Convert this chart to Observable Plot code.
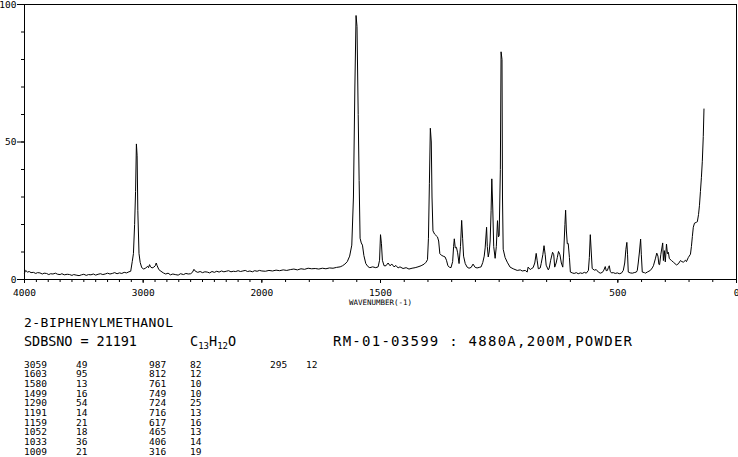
<!DOCTYPE html>
<html><head><meta charset="utf-8">
<script src="https://cdn.jsdelivr.net/npm/d3@7"></script>
<script src="https://cdn.jsdelivr.net/npm/@observablehq/plot@0.6"></script>
<style>
body{margin:0;background:#fff;}
svg{display:block;}
#chart svg line, #chart svg rect{shape-rendering:crispEdges;}
</style></head><body><div id="chart"></div><div id="info"></div>
<script>
// Raman spectrum (wavenumber in cm-1, relative intensity)
const wavenumber = [4000,3990,3975,3960,3945,3925,3905,3890,3870,3850,3835,3815,3795,3780,3760,3740,3720,3700,3685,3665,3640,3620,3600,3585,3565,3540,3520,3500,3480,3460,3440,3420,3400,3380,3360,3340,3320,3300,3280,3260,3240,3220,3200,3180,3160,3140,3120,3105,
3092,3082,3072,3064,3057,3051,3045,3035,3025,3012,2995,2978,2962,2955,2946,2938,2925,2910,2898,2890,2882,2868,2850,2830,2810,2790,2770,2750,2730,2705,2685,2660,2640,2620,2600,2585,2572,2560,2540,2520,2500,2480,2460,2440,2420,2400,2380,2360,2340,2320,2300,2280,2260,2240,2220,2200,2180,2160,2140,2120,2100,2080,2060,2040,2020,2000,
1985,1970,1955,1940,1925,1910,1895,1880,1865,1850,1835,1820,1805,1790,1775,1760,1745,1730,1715,1700,1685,1670,1660,1650,1640,1630,1621,1614,1608,1603,1599,1594,1590,1586,1581,1576,1570,1562,1553,1545,1533,1520,1510,1504,1500,1496,1492,1485,1477,1468,1460,1452,1443,1435,1426,1418,1405,1392,1380,1367,1354,1342,1329,1316,1308,1302,1298,1294,1290,1286,1283,1279,1272,1266,1260,1255,1250,1243,1236,1228,1222,1216,1210,1203,1196,1192,1189,1185,1180,1175,1169,1163,1158,1154,1150,1143,1135,1127,1118,1110,1101,1093,1084,1076,1069,1063,1059,1053,1050,1046,1042,1038,1034,1031,1027,1023,1017,1012,1007,1003,1000,995,992,988,986,983,975,966,954,941,924,911,903,890,882,878,869,865,857,850,844,840,835,827,823,816,811,806,802,793,789,783,775,770,766,760,755,750,744,738,732,728,723,720,717,713,709,704,700,692,684,675,667,658,650,641,633,624,620,616,612,608,599,591,582,574,565,559,553,549,544,540,536,532,527,519,511,502,494,485,477,471,466,462,459,456,448,439,431,422,418,414,409,404,401,397,388,384,376,363,355,350,342,336,331,327,324,319,311,308,304,300,295,291,287,283,274,266,253,245,236,230,224,215,211,203,194,190,186,182,177,169,165,160,156,152,148,144,140,137];
const intensity = [2.4,3.3,2.7,2.9,2.5,2.6,2.2,2.5,2.4,2.0,2.3,2.2,1.8,2.1,2.0,2.3,1.9,1.8,2.1,1.7,1.9,1.8,1.5,1.8,1.6,1.4,1.7,1.9,1.5,1.8,1.7,2.0,1.6,1.9,2.1,1.8,2.0,2.3,2.0,2.2,2.5,2.1,2.4,2.2,2.6,2.4,2.8,3.0,
6.5,9.4,20,32,49.3,45,25,9.4,6.2,4.3,3.8,4.2,4.8,4.3,5.4,4.6,4.2,4.5,5.0,6.0,5.0,3.6,3.0,2.4,2.0,2.3,1.7,2.0,1.8,1.6,2.1,1.8,2.2,2.0,2.1,2.6,3.7,3.0,2.6,2.9,2.5,2.8,2.7,2.4,2.9,2.6,3.0,2.7,3.1,2.8,3.0,3.2,2.8,3.0,2.9,3.2,2.9,3.1,3.3,2.9,3.1,2.8,3.2,3.0,3.3,3.1,
3.0,3.3,3.1,3.4,3.2,3.5,3.3,3.6,3.8,3.5,3.9,3.7,4.1,3.9,4.0,3.8,4.1,3.9,4.2,4.1,4.4,4.6,5.0,5.6,6.5,8.5,12.5,30,70,96,92,60,36,15,13.3,12.5,8.7,5.8,4.7,4.3,4.6,4.3,4.6,7,16.3,13,7,5,5.0,6.0,5.0,5.6,4.6,5.1,4.2,4.6,4.0,4.3,3.8,4.1,4.3,4.6,5.0,5.6,6.3,7.2,15,35,55,50,30,17.7,16.5,16,15.5,14,9.4,8.8,8.5,8.2,7.0,5.0,4.5,4.3,6.5,12,14.8,11.5,11.7,9.7,5.8,12,21.5,15,8.5,5.8,4.5,4.1,4.4,5.6,4.4,4.2,4.4,4.6,6.2,8.5,11.5,19,12,8.2,10,14,25,36.6,26,12,7.7,12,21.4,15.5,16,40,82.8,80,30,11,8,6.3,4.5,3.9,3.3,3.5,3.1,3.3,2.7,4.5,3.6,3.9,4.3,6,9.5,7,3.9,4.2,5.8,9,12.3,9,5.2,3.5,4.2,7,9.9,9,4.5,6,8,10.2,9,6,4.5,10,20,25.2,18,13,13.1,8,2.7,2.4,2.2,2.5,2.1,2.4,2.2,2.6,2.3,3.3,8,16.3,10,4,3.4,3.6,2.7,2.3,2.6,3.4,4.7,3.2,3.3,4.3,5.0,3.0,2.4,2.5,2.2,2.4,2.1,2.3,3.3,6,11,13.5,9,2.7,2.4,2.3,2.5,2.7,3.3,6,10,14.7,9,2.7,2.5,2.3,2.7,3.3,4.2,5.0,7.5,9.6,8.5,5.5,5.4,9,13.3,6.9,10.5,6.4,12.9,9.4,9.9,7.6,6.9,6.3,5.3,5.7,6.9,6.5,6.3,7.0,6.5,8.0,9.2,12,15.6,19,20.5,20.8,21,23.6,27,32,37,43,52,62];

const xTickLabels = [4000, 3000, 2000, 1500, 500, 0];
const xMinorTicks = d3.range(0, 4001, 100);
const yTickLabels = [0, 50, 100];
const yMinorTicks = d3.range(0, 101, 10);
const xAxisTitle = "WAVENUMBER(-1)";

// Header and peak list
const compoundName = "2-BIPHENYLMETHANOL";
const sdbsNumber = "SDBSNO = 21191";
const formulaParts = ["C", "13", "H", "12", "O"];
const sampleInfo = "RM-01-03599 : 4880A,200M,POWDER";
const peakWavenumber = [3059,1603,1580,1499,1290,1191,1159,1052,1033,1009,987,812,761,749,724,716,617,465,406,316,295];
const peakIntensity = [49,95,13,16,54,14,21,18,36,21,82,12,10,10,25,13,16,13,14,19,12];

const spectrum = wavenumber.map((w, i) => ({w, v: intensity[i]}));
const font = "DejaVu Sans Mono";
// the axis is compressed by half above 2000 cm-1
const compress = w => (w > 2000 ? 2000 + (w - 2000) / 2 : w);
const expand = u => (u > 2000 ? 2000 + (u - 2000) * 2 : u);

const chart = Plot.plot({
  width: 738, height: 305,
  marginLeft: 24, marginRight: 2, marginTop: 4, marginBottom: 26,
  x: {transform: compress, domain: [3000, 0]},
  y: {domain: [0, 100]},
  style: {fontFamily: font, color: "black", background: "white", overflow: "visible"},
  marks: [
    Plot.frame({stroke: "black", strokeWidth: 1}),
    Plot.axisX({ticks: xMinorTicks.map(compress), tickSize: 3, tickFormat: () => "", label: null}),
    Plot.axisX({ticks: xTickLabels.map(compress), tickSize: 4, tickPadding: 6, fontSize: 9.5, label: null, tickFormat: u => String(expand(u))}),
    Plot.axisY({ticks: yMinorTicks, tickSize: 3, tickFormat: () => "", label: null}),
    Plot.axisY({ticks: yTickLabels, tickSize: 7, tickPadding: 1, fontSize: 9.5, label: null, tickFormat: d => String(d)}),
    Plot.axisX({ticks: [], tickSize: 0, label: xAxisTitle, labelAnchor: "center", labelArrow: "none", labelOffset: 25, fontSize: 7.5}),
    Plot.line(spectrum, {x: "w", y: "v", stroke: "black", strokeWidth: 1})
  ]
});
document.getElementById("chart").appendChild(chart);

// Text block below the chart
const top0 = 305;
const info = d3.select("#info").append("svg")
  .attr("width", 738).attr("height", 152)
  .style("font-family", font).attr("fill", "black");

info.append("text").attr("x", 24).attr("y", 327 - top0).attr("font-size", 13)
  .attr("textLength", 149).attr("lengthAdjust", "spacing").text(compoundName);
info.append("text").attr("x", 24).attr("y", 346 - top0).attr("font-size", 13.5)
  .attr("textLength", 113).attr("lengthAdjust", "spacing").text(sdbsNumber);
const f = info.append("text").attr("x", 190).attr("y", 346 - top0).attr("font-size", 13.5);
formulaParts.forEach((p, i) => {
  const sub = i % 2 === 1;
  f.append("tspan").attr("font-size", sub ? 9 : 13.5).attr("dy", i === 0 ? 0 : (sub ? 3 : -3)).text(p);
});
info.append("text").attr("x", 333).attr("y", 346 - top0).attr("font-size", 14)
  .attr("textLength", 299).attr("lengthAdjust", "spacing").text(sampleInfo);

const colX = [[24, 76], [149, 190], [270, 306]];
peakWavenumber.forEach((w, i) => {
  const c = Math.floor(i / 10), r = i % 10;
  const y = 367.5 - top0 + r * 9.67;
  info.append("text").attr("x", colX[c][0]).attr("y", y).attr("font-size", 9.5).text(w);
  info.append("text").attr("x", colX[c][1]).attr("y", y).attr("font-size", 9.5).text(peakIntensity[i]);
});
</script></body></html>
